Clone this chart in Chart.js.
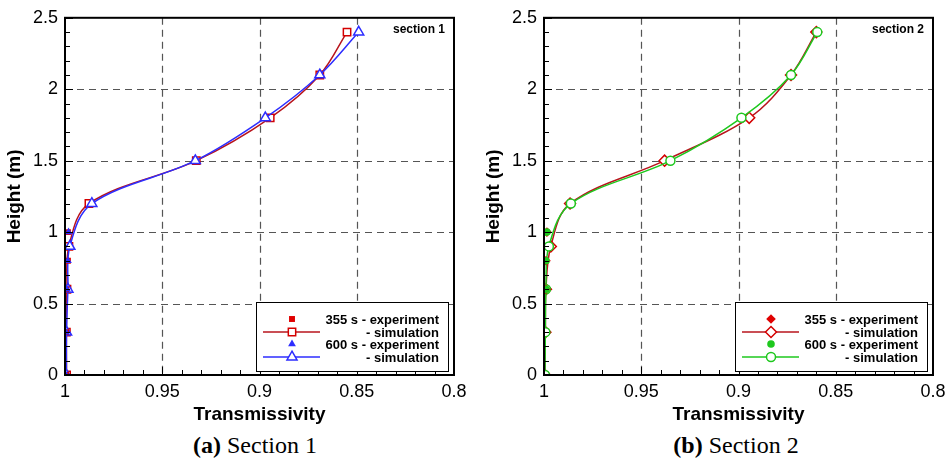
<!DOCTYPE html>
<html lang="en">
<head>
  <meta charset="UTF-8" />
  <title>Transmissivity profiles</title>
  <script src="https://cdn.jsdelivr.net/npm/chart.js"></script>
  <style>
    body {
      margin: 0;
      background: #fff;
      width: 952px;
      height: 461px;
      overflow: hidden;
      position: relative;
      font-family: 'Liberation Sans', Arial, sans-serif;
    }
    .panel { position: absolute; top: 0; width: 473px; height: 461px; }
    .chart-box { position: relative; width: 473px; height: 424px; }
    .caption {
      position: absolute;
      top: 431px;
      transform: translateX(-50%);
      white-space: nowrap;
      font-family: 'Liberation Serif', 'Times New Roman', serif;
      font-size: 24px;
      line-height: 28px;
      color: #000;
    }
  </style>
</head>
<body>
  <div class="panel" style="left:0">
    <div class="chart-box"><canvas id="sec1"></canvas></div>
    <div class="caption" style="left:255px"><b>(a)</b> Section 1</div>
  </div>
  <div class="panel" style="left:479px">
    <div class="chart-box"><canvas id="sec2"></canvas></div>
    <div class="caption" style="left:257px"><b>(b)</b> Section 2</div>
  </div>

  <script>
    // heights (m)
    const simHeights = [0, 0.3, 0.6, 0.9, 1.2, 1.5, 1.8, 2.1, 2.4];
    const expHeights1 = [0, 0.3, 0.6, 0.8, 1.0];
    const expHeights2 = [0.6, 0.8, 1.0];

    // section 1 - transmissivity
    const s1Exp355 = [0.9995, 0.9995, 0.9993, 0.9985, 0.9985];
    const s1Sim355 = [0.9992, 0.9993, 0.9990, 0.9980, 0.9877, 0.9325, 0.8945, 0.8690, 0.8550];
    const s1Exp600 = [0.9995, 0.9995, 0.9990, 0.9985, 0.9982];
    const s1Sim600 = [0.9993, 0.9992, 0.9985, 0.9975, 0.9862, 0.9330, 0.8970, 0.8690, 0.8490];

    // section 2 - transmissivity
    const s2Exp355 = [0.9990, 0.9990, 0.9985];
    const s2Sim355 = [0.9995, 0.9993, 0.9990, 0.9965, 0.9866, 0.9380, 0.8945, 0.8730, 0.8600];
    const s2Exp600 = [0.9990, 0.9990, 0.9985];
    const s2Sim600 = [0.9995, 0.9993, 0.9990, 0.9975, 0.9862, 0.9350, 0.8985, 0.8730, 0.8595];

    const legendText = ['355 s - experiment', '- simulation', '600 s - experiment', '- simulation'];
    const xTicks = [1, 0.95, 0.9, 0.85, 0.8];
    const yTicks = [0, 0.5, 1, 1.5, 2, 2.5];

    const RED = '#e00000', RED_LINE = '#b8141c', BLUE = '#2d2dff', GREEN = '#1ec81e';

    function pts(xs, ys) {
      return xs.map((x, i) => ({ x: x, y: ys[i] }));
    }

    // marker drawn the same way as Chart.js point styles (used in the legend)
    function marker(ctx, style, x, y, r, fill, stroke) {
      ctx.beginPath();
      if (style === 'rect') {
        const s = Math.SQRT1_2 * r;
        ctx.rect(x - s, y - s, 2 * s, 2 * s);
      } else if (style === 'triangle') {
        ctx.moveTo(x, y - r);
        ctx.lineTo(x + r * 0.866, y + r * 0.5);
        ctx.lineTo(x - r * 0.866, y + r * 0.5);
        ctx.closePath();
      } else if (style === 'rectRot') {
        ctx.moveTo(x, y - r); ctx.lineTo(x + r, y); ctx.lineTo(x, y + r); ctx.lineTo(x - r, y);
        ctx.closePath();
      } else {
        ctx.arc(x, y, r, 0, Math.PI * 2);
      }
      if (fill) { ctx.fillStyle = fill; ctx.fill(); }
      if (stroke) { ctx.strokeStyle = stroke; ctx.lineWidth = 1.5; ctx.stroke(); }
    }

    const framePlugin = {
      id: 'frame',
      beforeDatasetsDraw(chart) {
        const { ctx, chartArea: a, scales: { x, y } } = chart;
        ctx.save();
        ctx.strokeStyle = '#555';
        ctx.lineWidth = 1.2;
        ctx.setLineDash([7, 5]);
        xTicks.slice(1, -1).forEach(v => {
          const px = Math.round(x.getPixelForValue(v)) + 0.5;
          ctx.beginPath(); ctx.moveTo(px, a.top); ctx.lineTo(px, a.bottom); ctx.stroke();
        });
        yTicks.slice(1, -1).forEach(v => {
          const py = Math.round(y.getPixelForValue(v)) + 0.5;
          ctx.beginPath(); ctx.moveTo(a.left, py); ctx.lineTo(a.right, py); ctx.stroke();
        });
        ctx.restore();
      },
      afterDatasetsDraw(chart) {
        const { ctx, chartArea: a, scales: { x, y } } = chart;
        const o = chart.options.plugins.frame;
        ctx.save();
        // minor ticks inside the frame
        ctx.strokeStyle = '#000';
        ctx.lineWidth = 1;
        for (let i = 0; i <= 20; i++) {
          const px = Math.round(x.getPixelForValue(0.8 + i * 0.01)) + 0.5;
          const len = i % 5 === 0 ? 8 : 5;
          ctx.beginPath(); ctx.moveTo(px, a.bottom); ctx.lineTo(px, a.bottom - len); ctx.stroke();
        }
        for (let i = 0; i <= 25; i++) {
          const py = Math.round(y.getPixelForValue(i * 0.1)) + 0.5;
          const len = i % 5 === 0 ? 8 : 5;
          ctx.beginPath(); ctx.moveTo(a.left, py); ctx.lineTo(a.left + len, py); ctx.stroke();
        }
        // frame
        ctx.lineWidth = 2;
        ctx.strokeRect(a.left, a.top, a.right - a.left, a.bottom - a.top);

        // section label
        ctx.fillStyle = '#000';
        ctx.font = 'bold 12px "Liberation Sans", Arial, sans-serif';
        ctx.textAlign = 'right';
        ctx.textBaseline = 'middle';
        ctx.fillText(o.label, a.right - 9, a.top + 12);

        // legend box
        const bx = a.right - 198, by = a.bottom - 73, bw = 192, bh = 69;
        ctx.fillStyle = '#fff';
        ctx.fillRect(bx, by, bw, bh);
        ctx.lineWidth = 1;
        ctx.strokeStyle = '#000';
        ctx.strokeRect(bx + 0.5, by + 0.5, bw, bh);
        const rows = [17, 30, 42, 55];
        chart.data.datasets.forEach((ds, i) => {
          const ry = by + rows[i];
          const mx = bx + 36;
          if (ds.showLine) {
            ctx.strokeStyle = ds.borderColor;
            ctx.lineWidth = 1.5;
            ctx.beginPath(); ctx.moveTo(bx + 7, ry); ctx.lineTo(bx + 64, ry); ctx.stroke();
          }
          marker(ctx, ds.pointStyle, mx, ry, ds.pointRadius,
            ds.pointBackgroundColor,
            ds.pointBorderWidth > 0 ? ds.pointBorderColor : null);
          ctx.fillStyle = '#000';
          ctx.font = 'bold 13px "Liberation Sans", Arial, sans-serif';
          ctx.textAlign = 'right';
          ctx.fillText(legendText[i], bx + bw - 9, ry + 1);
        });
        ctx.restore();
      }
    };

    function expSet(label, data, style, color, r, order) {
      return {
        label: label, data: data, showLine: false, order: order,
        pointStyle: style, pointRadius: r, pointHoverRadius: r,
        pointBackgroundColor: color, pointBorderColor: color, pointBorderWidth: 0
      };
    }

    function simSet(label, data, style, lineColor, markColor, r, order) {
      return {
        label: label, data: data, showLine: true, tension: 0.35, order: order,
        borderColor: lineColor, borderWidth: 1.5,
        pointStyle: style, pointRadius: r, pointHoverRadius: r,
        pointBackgroundColor: '#fff', pointBorderColor: markColor, pointBorderWidth: 1.5
      };
    }

    const axisFont = { family: '"Liberation Sans", Arial, sans-serif', size: 18 };
    const titleFont = { family: '"Liberation Sans", Arial, sans-serif', size: 19, weight: 'bold', lineHeight: 1 };

    function makeChart(id, label, datasets) {
      new Chart(document.getElementById(id), {
        type: 'scatter',
        data: { datasets: datasets },
        plugins: [framePlugin],
        options: {
          responsive: true,
          maintainAspectRatio: false,
          animation: false,
          layout: { padding: { top: 13, right: 19, bottom: 0, left: 0 } },
          plugins: {
            legend: { display: false },
            tooltip: { enabled: false },
            frame: { label: label }
          },
          scales: {
            x: {
              type: 'linear', min: 0.8, max: 1, reverse: true,
              afterFit: s => { s.height = 49; },
              afterBuildTicks: s => { s.ticks = xTicks.map(v => ({ value: v })); },
              grid: { display: false, drawTicks: false },
              border: { display: false },
              ticks: {
                padding: 6, color: '#000', font: axisFont,
                callback: v => String(Number(v.toFixed(2)))
              },
              title: {
                display: true, text: 'Transmissivity', color: '#000',
                padding: 0, font: titleFont
              }
            },
            y: {
              type: 'linear', min: 0, max: 2.5,
              afterFit: s => { s.width = 65; },
              afterBuildTicks: s => { s.ticks = yTicks.map(v => ({ value: v })); },
              grid: { display: false, drawTicks: false },
              border: { display: false },
              ticks: {
                padding: 7, color: '#000', font: axisFont,
                callback: v => String(Number(v.toFixed(2)))
              },
              title: {
                display: true, text: 'Height (m)', color: '#000',
                padding: { top: 5, bottom: 0 }, font: titleFont
              }
            }
          }
        }
      });
    }

    // lower order is drawn on top
    makeChart('sec1', 'section 1', [
      expSet('355 s - experiment', pts(s1Exp355, expHeights1), 'rect', RED, 4.2, 2),
      simSet('355 s - simulation', pts(s1Sim355, simHeights), 'rect', RED_LINE, '#d40000', 5.2, 4),
      expSet('600 s - experiment', pts(s1Exp600, expHeights1), 'triangle', BLUE, 4.5, 1),
      simSet('600 s - simulation', pts(s1Sim600, simHeights), 'triangle', BLUE, BLUE, 5.8, 3)
    ]);

    makeChart('sec2', 'section 2', [
      expSet('355 s - experiment', pts(s2Exp355, expHeights2), 'rectRot', RED, 4.8, 2),
      simSet('355 s - simulation', pts(s2Sim355, simHeights), 'rectRot', RED_LINE, '#d40000', 5.5, 4),
      expSet('600 s - experiment', pts(s2Exp600, expHeights2), 'circle', GREEN, 3.8, 1),
      simSet('600 s - simulation', pts(s2Sim600, simHeights), 'circle', GREEN, GREEN, 4.5, 3)
    ]);
  </script>
</body>
</html>
